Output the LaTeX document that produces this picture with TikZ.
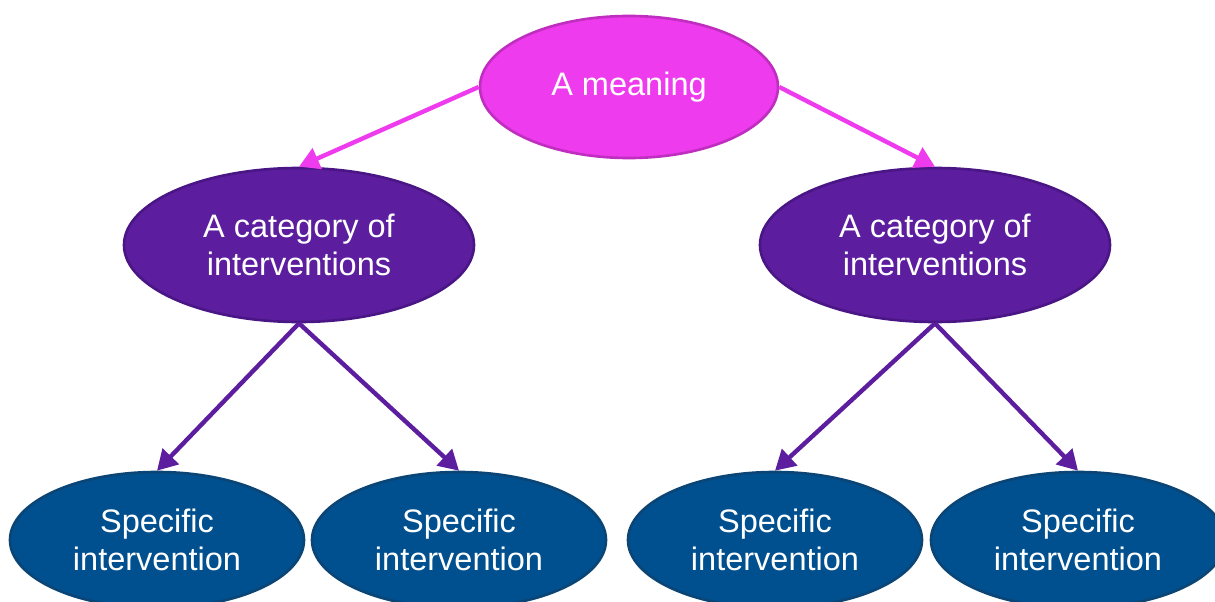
\documentclass[tikz,border=0pt]{standalone}
\usepackage{fontspec}
\setmainfont{Liberation Sans}
\usepackage{tikz}
\usetikzlibrary{positioning, shapes.geometric, arrows.meta}

\definecolor{meaningpink}{HTML}{EE3BEE}
\definecolor{meaningedge}{HTML}{C02EC0}
\definecolor{categorypurple}{HTML}{5C1E9E}
\definecolor{categoryedge}{HTML}{4A1585}
\definecolor{specificblue}{HTML}{00508F}
\definecolor{specificedge}{HTML}{0A4575}

\begin{document}
\begin{tikzpicture}[
        bubble/.style={ellipse, inner sep=0pt, line width=1.5pt, text=white, align=center,
            font=\fontsize{18.5}{21.6}\selectfont},
        meaning/.style={bubble, fill=meaningpink, draw=meaningedge, minimum width=5.96cm, minimum height=2.84cm},
        category/.style={bubble, fill=categorypurple, draw=categoryedge, minimum width=7cm, minimum height=3.08cm},
        specific/.style={bubble, fill=specificblue, draw=specificedge, minimum width=5.88cm, minimum height=2.72cm},
        link/.style={line width=2.5pt, -{Triangle[length=0.4cm, width=0.44cm]}}
    ]
        \useasboundingbox (0,0) rectangle (24.3,-12.04);
        \node[meaning] (M) at (12.58,-1.74) {A meaning};
        \node[category] (C1) at (5.98,-4.90) {A category of\\interventions};
        \node[category] (C2) at (18.70,-4.90) {A category of\\interventions};
        \node[specific] (S1) at (3.14,-10.80) {Specific\\intervention};
        \node[specific] (S2) at (9.18,-10.80) {Specific\\intervention};
        \node[specific] (S3) at (15.50,-10.80) {Specific\\intervention};
        \node[specific] (S4) at (21.56,-10.80) {Specific\\intervention};
        \draw[link, meaningpink] (M.west) -- (C1.north);
        \draw[link, meaningpink] (M.east) -- (C2.north);
        \foreach \c/\s in {C1/S1, C1/S2, C2/S3, C2/S4}
        {
            \draw[link, categorypurple] (\c.south) -- (\s.north);
        }
    \end{tikzpicture}
\end{document}
